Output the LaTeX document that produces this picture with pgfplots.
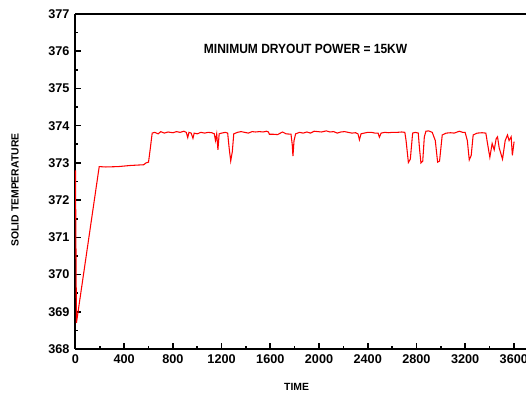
\documentclass[border=0pt]{standalone}
\usepackage{fontspec}
\setmainfont{Liberation Sans}
\usepackage{pgfplots}
\pgfplotsset{compat=1.18}
\begin{document}
\begin{tikzpicture}[x=1pt,y=1pt]
\begin{axis}[
  scale only axis,
  width=337.9pt, height=251.25pt,
  xmin=0, xmax=3700, ymin=368, ymax=377,
  axis x line*=box, axis y line*=left,
  xtick={0,400,...,3600}, minor xtick={200,600,...,3400},
  ytick={368,...,377}, minor ytick={368.5,369.5,...,376.5},
  xtick pos=bottom, ytick pos=left,
  tick align=inside,
  major tick length=4.2pt, minor tick length=2.2pt,
  every tick/.style={black, line width=1.2pt},
  axis line style={black, line width=1.5pt},
  /pgf/number format/assume math mode=true,
  /pgf/number format/1000 sep={},
  tick label style={font=\fontsize{9.5}{11}\selectfont\bfseries},
  xticklabel style={yshift=-1pt},
  yticklabel style={xshift=-1pt},
  clip=false,
]
\coordinate (bl) at (rel axis cs:0,0);
\coordinate (tr) at (rel axis cs:1,1);
\addplot[red, line width=0.8pt] coordinates {
(0,372.8) (8,368.7) (195,372.9) (250,372.89) (350,372.9) (450,372.93) (560,372.95) (580,373.0) (600,373.02) (615,373.4) (630,373.8)
(650,373.82) (680,373.78) (700,373.84) (730,373.8) (760,373.83) (800,373.81) (830,373.84) (860,373.82) (890,373.85) (910,373.82)
(922,373.68) (932,373.82) (950,373.8) (965,373.66) (975,373.8) (1000,373.78) (1030,373.82) (1060,373.8) (1090,373.82) (1120,373.81)
(1140,373.78) (1150,373.6) (1160,373.78) (1170,373.35) (1180,373.78) (1200,373.8) (1230,373.82) (1250,373.8) (1262,373.4) (1275,373.05)
(1288,373.3) (1300,373.78) (1330,373.82) (1360,373.84) (1390,373.82) (1420,373.8) (1450,373.84) (1480,373.83) (1510,373.84) (1540,373.83)
(1570,373.85) (1585,373.83) (1592,373.77) (1620,373.77) (1660,373.76) (1700,373.83) (1730,373.78) (1770,373.77) (1780,373.5) (1786,373.18)
(1795,373.6) (1808,373.78) (1840,373.82) (1870,373.8) (1900,373.83) (1930,373.8) (1960,373.85) (1990,373.84) (2020,373.83) (2060,373.86)
(2090,373.83) (2120,373.84) (2150,373.8) (2180,373.83) (2210,373.84) (2240,373.82) (2270,373.8) (2300,373.81) (2320,373.78) (2332,373.62)
(2345,373.78) (2370,373.8) (2400,373.82) (2430,373.82) (2460,373.8) (2485,373.8) (2496,373.69) (2510,373.8) (2540,373.82) (2570,373.81)
(2600,373.82) (2640,373.82) (2680,373.83) (2705,373.82) (2715,373.6) (2734,373.01) (2750,373.1) (2769,373.8) (2790,373.82) (2815,373.8)
(2825,373.4) (2837,373.0) (2852,373.05) (2865,373.7) (2878,373.85) (2900,373.86) (2930,373.82) (2955,373.6) (2974,373.02) (2990,373.05)
(3012,373.75) (3045,373.8) (3080,373.81) (3110,373.8) (3152,373.85) (3180,373.82) (3200,373.82) (3218,373.6) (3234,373.08) (3250,373.2)
(3266,373.75) (3299,373.8) (3340,373.81) (3370,373.8) (3385,373.5) (3403,373.15) (3422,373.52) (3439,373.35) (3455,373.65) (3466,373.7)
(3480,373.4) (3507,373.1) (3529,373.6) (3548,373.75) (3561,373.6) (3578,373.7) (3588,373.2) (3602,373.57)
};
\node[font=\fontsize{10}{12}\selectfont\bfseries] at (axis cs:1890,376.05) {\scalebox{0.9}[1]{MINIMUM DRYOUT POWER = 15KW}};
\node[font=\fontsize{7.8}{9}\selectfont\bfseries] at (axis cs:1816,368) [yshift=-28.1pt] {TIME};
\node[font=\fontsize{7.8}{9}\selectfont\bfseries, rotate=90] at ([xshift=-45.4pt]axis cs:0,372.27) {SOLID TEMPERATURE};
\end{axis}
\pgfresetboundingbox
\path[use as bounding box] ([shift={(-56.6pt,-35.25pt)}]bl) rectangle ([shift={(0pt,10.5pt)}]tr);
\end{tikzpicture}
\end{document}
